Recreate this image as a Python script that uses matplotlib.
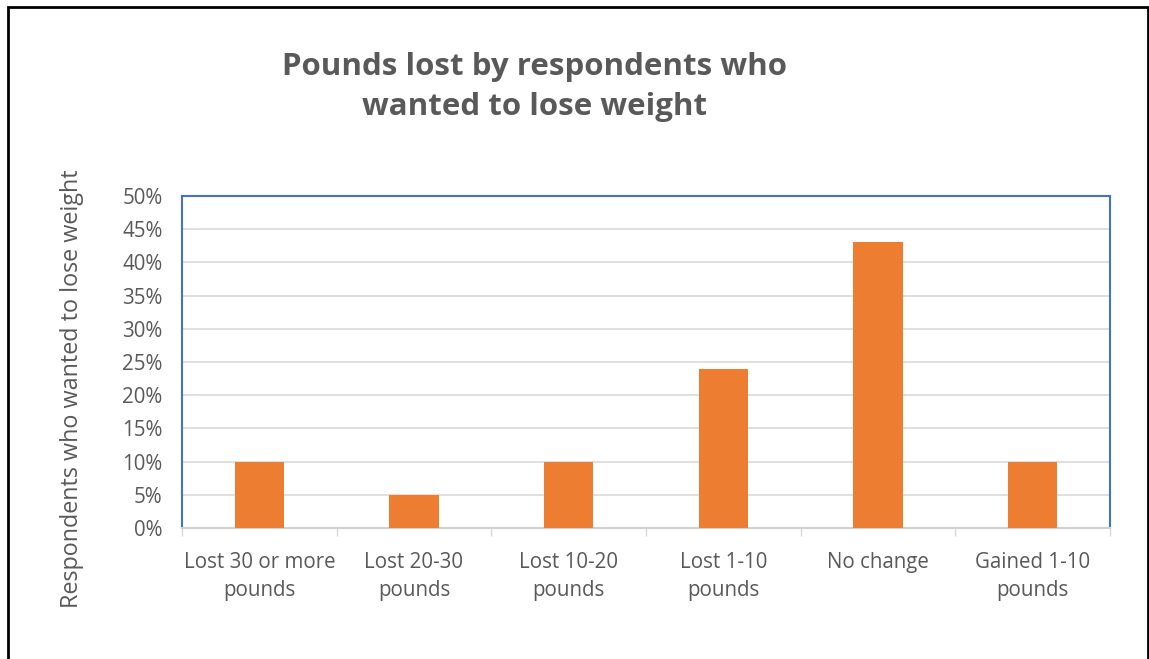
import matplotlib.pyplot as plt
from matplotlib.patches import Rectangle
from matplotlib.ticker import FuncFormatter

categories = ["Lost 30 or more\npounds", "Lost 20-30\npounds", "Lost 10-20\npounds",
              "Lost 1-10\npounds", "No change", "Gained 1-10\npounds"]
values = [10, 5, 10, 24, 43, 10]
yticks = [0, 5, 10, 15, 20, 25, 30, 35, 40, 45, 50]

plt.rcParams['font.family'] = ['Open Sans', 'DejaVu Sans']
grey = '#595959'

W, H = 1149, 659
fig = plt.figure(figsize=(W / 100, H / 100), dpi=100)

# outer black border (bottom edge runs off the picture)
fig.patches.append(Rectangle((8 / W, -0.05), (1148 - 8) / W, 1.05 - 7 / H,
                             transform=fig.transFigure, fill=False,
                             edgecolor='black', linewidth=2))

ax = fig.add_axes([182 / W, 1 - 528 / H, (1110 - 182) / W, (528 - 196) / H])
x = range(len(categories))
ax.bar(x, values, width=0.32, color='#ED7D31', zorder=3)

ax.set_xlim(-0.5, len(categories) - 0.5)
ax.set_ylim(0, 50)
ax.set_yticks(yticks)
ax.yaxis.set_major_formatter(FuncFormatter(lambda v, p: f"{v:.0f}%"))
ax.set_xticks(list(x))
ax.set_xticklabels(categories, fontsize=14.8, color=grey, linespacing=1.45)
ax.tick_params(axis='y', length=0, labelsize=14.8, labelcolor=grey, pad=14)
ax.tick_params(axis='x', length=0, pad=17)
# small tick marks between categories
ax.set_xticks([i - 0.5 for i in range(len(categories) + 1)], minor=True)
ax.tick_params(axis='x', which='minor', length=6, color='#d9d9d9', width=1)

ax.grid(axis='y', color='#d9d9d9', linewidth=1.2, zorder=0)
for s in ['left', 'top', 'right']:
    ax.spines[s].set_color('#4472C4')
    ax.spines[s].set_linewidth(1.5)
ax.spines['bottom'].set_color('#d0d0d0')
ax.spines['bottom'].set_linewidth(1.5)

fig.text(72 / W, 1 - 389 / H, "Respondents who wanted to lose weight",
         rotation=90, ha='center', va='center', fontsize=16.8, color=grey)

fig.text(535 / W, 1 - 87 / H, "Pounds lost by respondents who\nwanted to lose weight",
         ha='center', va='center', fontsize=22.5, fontweight='bold', color=grey,
         linespacing=1.45)

fig.savefig('out.png', dpi=100)
